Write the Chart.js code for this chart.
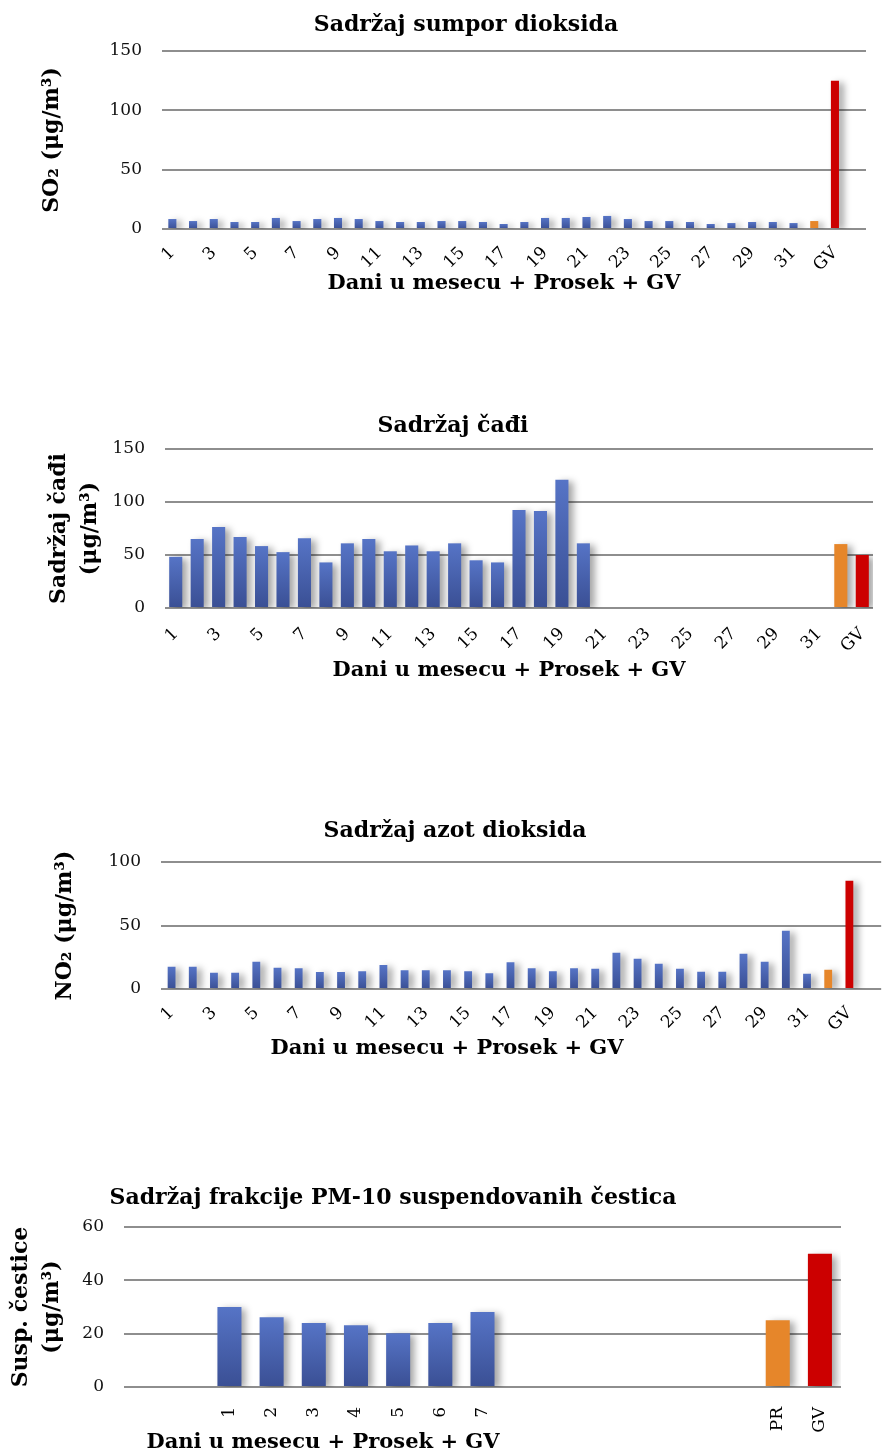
<!DOCTYPE html>
<html lang="sr">
<head>
<meta charset="UTF-8">
<title>Sadržaj zagađujućih materija</title>
<script src="https://cdn.jsdelivr.net/npm/chart.js@4.4.1/dist/chart.umd.min.js"></script>
<style>
  body { margin: 0; background: #fff; }
  .box { position: absolute; left: 0; width: 891px; }
</style>
</head>
<body>
<div class="box" style="top:0;height:300px"><canvas id="so2"></canvas></div>
<div class="box" style="top:400px;height:300px"><canvas id="cad"></canvas></div>
<div class="box" style="top:810px;height:260px"><canvas id="no2"></canvas></div>
<div class="box" style="top:1180px;height:276px"><canvas id="pm10"></canvas></div>

<script>
// dani u mesecu
const days = Array.from({ length: 31 }, (_, i) => String(i + 1));

// SO2
const so2Labels = [...days, 'PR', 'GV', ''];
const so2Values = [8.4, 6.7, 8.4, 5.9, 5.9, 9.3, 6.7, 8.4, 9.3, 8.4, 6.7, 5.9, 5.9, 6.7, 6.7, 5.9,
  4.2, 5.9, 9.3, 9.3, 10.1, 11, 8.4, 6.7, 6.7, 5.9, 4.2, 5, 5.9, 5.9, 5, 6.7, 125, null];

// čađ
const cadLabels = [...days, 'PR', 'GV'];
const cadValues = [48.3, 65, 76.4, 67, 58.4, 52.7, 65.7, 43, 61, 65, 53.5, 59, 53.5, 61, 45, 43,
  92.4, 91.4, 121, 61, null, null, null, null, null, null, null, null, null, null, null, 60.3, 50];

// NO2
const no2Labels = [...days, 'PR', 'GV', ''];
const no2Values = [17.6, 17.6, 12.8, 12.8, 21.5, 16.8, 16.4, 13.3, 13.3, 14, 18.8, 14.8, 14.8, 14.8,
  14, 12.5, 21, 16.4, 14, 16.4, 16, 28.6, 23.9, 19.9, 16, 13.6, 13.6, 27.8, 21.5, 45.9, 12, 15.2, 85.3, null];

// PM-10
const pmLabels = ['', '', '1', '2', '3', '4', '5', '6', '7', '', '', '', '', '', '', 'PR', 'GV'];
const pmValues = [null, null, 30, 26.2, 24, 23.2, 20.2, 24, 28.1, null, null, null, null, null, null, 25, 50];

const SERIF = '"DejaVu Serif", "Liberation Serif", serif';

function barColor(ctx) {
  const label = ctx.chart.data.labels[ctx.dataIndex];
  if (label === 'PR') return '#e6862a';
  if (label === 'GV') return '#cc0000';
  const y = ctx.chart.scales.y;
  const v = ctx.parsed ? ctx.parsed.y : null;
  if (!y || v == null || !ctx.chart.chartArea) return '#4a64b0';
  const g = ctx.chart.ctx.createLinearGradient(0, y.getPixelForValue(v), 0, y.getPixelForValue(0));
  g.addColorStop(0, '#5674c6');
  g.addColorStop(1, '#3a4f94');
  return g;
}

// senka iza stubića
const shadowPlugin = {
  id: 'barShadow',
  beforeDatasetsDraw(chart) {
    const c = chart.ctx;
    c.save();
    c.shadowColor = 'rgba(0,0,0,0.35)';
    c.shadowBlur = 7;
    c.shadowOffsetX = 5;
    c.shadowOffsetY = 2;
  },
  afterDatasetsDraw(chart) {
    chart.ctx.restore();
  }
};

// naslovi na zadatim mestima
const textPlugin = {
  id: 'texts',
  afterDraw(chart, args, opts) {
    const c = chart.ctx;
    c.save();
    c.fillStyle = '#000';
    c.textAlign = 'center';
    c.textBaseline = 'middle';
    (opts.items || []).forEach(it => {
      c.font = 'bold ' + it.size + 'px ' + SERIF;
      c.fillText(it.text, it.x, it.y);
    });
    c.restore();
  }
};

function makeChart(id, cfg) {
  return new Chart(document.getElementById(id), {
    type: 'bar',
    data: {
      labels: cfg.labels,
      datasets: [{
        data: cfg.values,
        backgroundColor: barColor,
        barPercentage: cfg.barPct,
        categoryPercentage: 1
      }]
    },
    options: {
      responsive: true,
      maintainAspectRatio: false,
      animation: false,
      layout: { padding: { top: cfg.padTop, right: cfg.padRight, left: 0, bottom: 0 } },
      plugins: {
        legend: { display: false },
        tooltip: { enabled: false },
        texts: { items: cfg.texts }
      },
      scales: {
        x: {
          grid: { display: false },
          border: { display: false },
          afterFit: s => { s.height = cfg.xHeight; },
          ticks: {
            autoSkip: false,
            minRotation: cfg.rot,
            maxRotation: cfg.rot,
            padding: cfg.xPad,
            color: '#000',
            font: { family: SERIF, size: 17 },
            callback: function (v, i) {
              const l = this.getLabelForValue(v);
              return cfg.every2 ? (i % 2 === 0 ? l : '') : l;
            }
          }
        },
        y: {
          min: 0,
          max: cfg.max,
          afterFit: s => { s.width = cfg.yWidth; },
          border: { display: false },
          grid: { color: '#8e8e8e', lineWidth: 2, drawTicks: false },
          ticks: {
            stepSize: cfg.step,
            padding: 20,
            color: '#111',
            font: { family: SERIF, size: 17 }
          },
          title: {
            display: true,
            text: cfg.yTitle,
            color: '#000',
            padding: { top: cfg.yTitlePad, bottom: 0 },
            font: { family: SERIF, size: 22, weight: 'bold', lineHeight: 1.4 }
          }
        }
      }
    },
    plugins: [shadowPlugin, textPlugin]
  });
}

makeChart('so2', {
  labels: so2Labels, values: so2Values, barPct: 0.39, max: 150, step: 50,
  padTop: 51, padRight: 25, xHeight: 71, yWidth: 162, rot: 45, xPad: 6, every2: true,
  yTitle: 'SO₂ (μg/m³)', yTitlePad: 37,
  texts: [
    { text: 'Sadržaj sumpor dioksida', x: 466, y: 25, size: 22 },
    { text: 'Dani u mesecu + Prosek + GV', x: 504, y: 284, size: 21 }
  ]
});

makeChart('cad', {
  labels: cadLabels, values: cadValues, barPct: 0.61, max: 150, step: 50,
  padTop: 49, padRight: 18, xHeight: 92, yWidth: 165, rot: 45, xPad: 8, every2: true,
  yTitle: ['Sadržaj čađi', '(μg/m³)'], yTitlePad: 44,
  texts: [
    { text: 'Sadržaj čađi', x: 453, y: 26, size: 22 },
    { text: 'Dani u mesecu + Prosek + GV', x: 509, y: 671 - 400, size: 21 }
  ]
});

makeChart('no2', {
  labels: no2Labels, values: no2Values, barPct: 0.37, max: 100, step: 50,
  padTop: 52, padRight: 0, xHeight: 81, yWidth: 161, rot: 45, xPad: 6, every2: true,
  yTitle: 'NO₂ (μg/m³)', yTitlePad: 50,
  texts: [
    { text: 'Sadržaj azot dioksida', x: 455, y: 21, size: 22 },
    { text: 'Dani u mesecu + Prosek + GV', x: 447, y: 239, size: 21 }
  ]
});

makeChart('pm10', {
  labels: pmLabels, values: pmValues, barPct: 0.57, max: 60, step: 20,
  padTop: 47, padRight: 50, xHeight: 69, yWidth: 124, rot: 90, xPad: 12, every2: false,
  yTitle: ['Susp. čestice', '(μg/m³)'], yTitlePad: 6,
  texts: [
    { text: 'Sadržaj frakcije PM-10 suspendovanih čestica', x: 393, y: 18, size: 22 },
    { text: 'Dani u mesecu + Prosek + GV', x: 323, y: 263, size: 21 }
  ]
});
</script>
</body>
</html>
